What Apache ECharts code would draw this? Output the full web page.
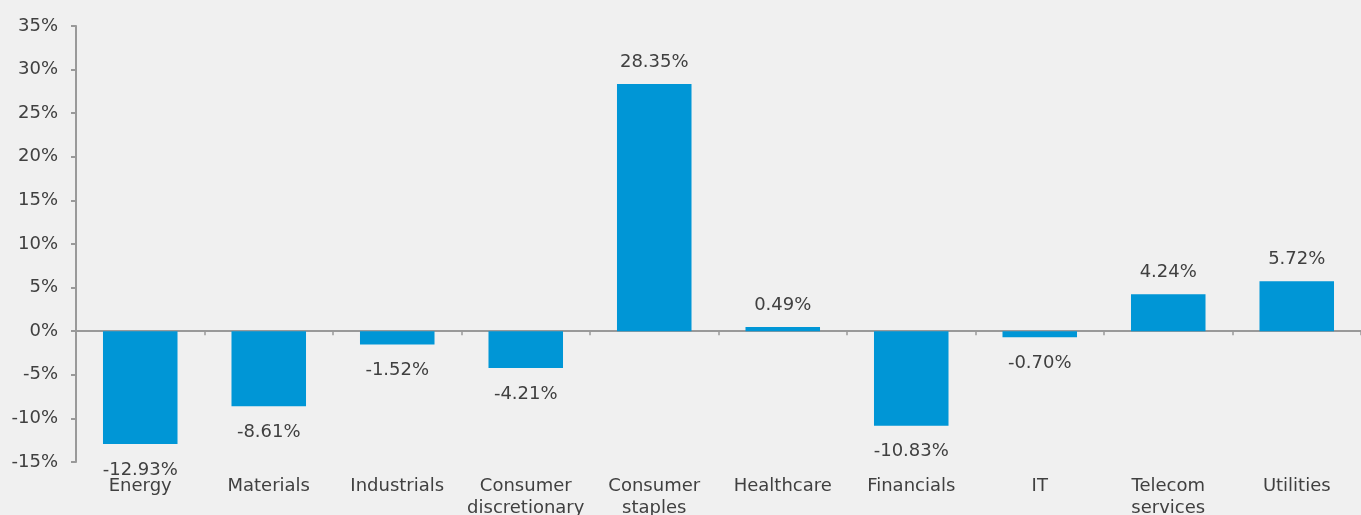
<!DOCTYPE html>
<html>
<head>
<meta charset="utf-8">
<script src="https://cdn.jsdelivr.net/npm/echarts@6/dist/echarts.min.js"></script>
<style>
html,body{margin:0;padding:0;background:#f0f0f0;}
#chart{width:1361px;height:515px;}
</style>
</head>
<body>
<div id="chart"></div>
<script>
const categories = ['Energy', 'Materials', 'Industrials', 'Consumer\ndiscretionary', 'Consumer\nstaples', 'Healthcare', 'Financials', 'IT', 'Telecom\nservices', 'Utilities'];
const values = [-12.93, -8.61, -1.52, -4.21, 28.35, 0.49, -10.83, -0.70, 4.24, 5.72];
const yMin = -15, yMax = 35, yStep = 5;

const textColor = '#404040';
const axisColor = '#999999';
const barColor = '#0096d6';
const fontFamily = 'DejaVu Sans';

const chart = echarts.init(document.getElementById('chart'), null, {renderer: 'canvas'});
chart.setOption({
  backgroundColor: '#f0f0f0',
  animation: false,
  textStyle: {fontFamily: fontFamily},
  grid: {left: 76, right: 0, top: 26, bottom: 53, containLabel: false, outerBoundsMode: 'none'},
  xAxis: [
    {
      type: 'category', data: categories, position: 'bottom',
      axisLine: {show: false, onZero: false},
      axisTick: {show: false},
      axisLabel: {color: textColor, fontSize: 18, fontFamily: fontFamily, margin: 13, lineHeight: 22, interval: 0}
    },
    {
      type: 'category', data: categories, position: 'bottom',
      axisLine: {show: true, onZero: true, lineStyle: {color: axisColor, width: 2}},
      axisTick: {show: true, length: 4, lineStyle: {color: axisColor, width: 1.5}},
      axisLabel: {show: false}
    }
  ],
  yAxis: {
    type: 'value', min: yMin, max: yMax, interval: yStep,
    axisLine: {show: true, lineStyle: {color: axisColor, width: 2}},
    axisTick: {show: true, length: 5, lineStyle: {color: axisColor, width: 2}},
    splitLine: {show: false},
    axisLabel: {color: textColor, fontSize: 18, fontFamily: fontFamily, margin: 18, formatter: '{value}%'}
  },
  series: [{
    type: 'bar',
    xAxisIndex: 0,
    barWidth: '58%',
    itemStyle: {color: barColor},
    data: values.map(v => ({
      value: v,
      label: {position: v >= 0 ? 'top' : 'bottom', distance: v >= 0 ? 13 : 17}
    })),
    label: {
      show: true, color: textColor, fontSize: 18, fontFamily: fontFamily,
      formatter: p => p.value.toFixed(2) + '%'
    }
  }]
});
</script>
</body>
</html>
